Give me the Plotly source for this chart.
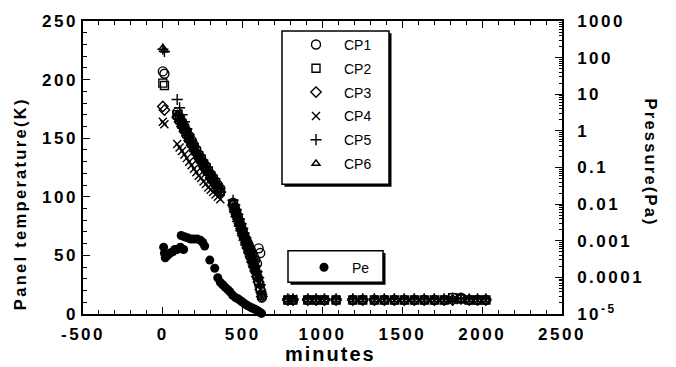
import plotly.graph_objects as go

# ---------------- data ----------------
# time (minutes) for the panel temperature measurements
t_start = [0, 10]
t_cool1 = [90, 105, 120, 135, 150, 165, 180, 195, 210, 225, 240, 255, 270, 285, 300, 315, 330, 345, 360]
t_cool2 = [440, 450, 460, 470, 480, 490, 500, 510, 520, 530, 540, 550, 560, 570, 580, 590, 600, 610, 620]
t_flat = [783, 815, 908, 960, 1012, 1085, 1190, 1252, 1325, 1387, 1450, 1512, 1575, 1637, 1700, 1762, 1815, 1867, 1919, 1971, 2023]

cp1 = [207, 205,
       172, 168, 164, 160, 156, 152, 148, 144, 140, 136, 133, 129, 126, 122, 119, 116, 113, 110, 107,
       95, 91, 87, 83, 79, 75, 71, 67, 64, 61, 58, 55, 52, 49, 46, 43, 56, 52, 14,
       12, 12, 12, 12, 12, 12, 12, 12, 12, 12, 12, 12, 12, 12, 12, 12, 14, 14, 12, 12, 12]
cp2 = [197, 195,
       170, 166, 162, 158, 154, 150, 146, 142, 139, 135, 132, 128, 125, 122, 118, 115, 112, 108, 105,
       94, 90, 86, 82, 78, 74, 70, 66, 62, 58, 54, 50, 46, 42, 38, 33, 28, 22, 16,
       12, 12, 12, 12, 12, 12, 12, 12, 12, 12, 12, 12, 12, 12, 12, 12, 14, 13, 12, 12, 12]
cp3 = [177, 174,
       168, 164, 160, 156, 152, 148, 144, 140, 137, 133, 130, 126, 123, 120, 116, 113, 110, 107, 104,
       93, 89, 85, 81, 77, 73, 69, 65, 61, 57, 53, 49, 45, 41, 37, 32, 27, 21, 15,
       12, 12, 12, 12, 12, 12, 12, 12, 12, 12, 12, 12, 12, 12, 12, 12, 12, 13, 12, 12, 12]
cp4 = [164, 162,
       145, 142, 139, 136, 133, 130, 127, 124, 121, 118, 116, 113, 111, 108, 106, 104, 102, 100, 98,
       90, 86, 82, 78, 74, 70, 66, 62, 59, 55, 51, 47, 43, 39, 35, 31, 26, 21, 15,
       12, 13, 12, 12, 12, 12, 12, 12, 12, 12, 12, 12, 12, 12, 12, 12, 12, 12, 12, 12, 12]
cp5 = [226, 224,
       183, 176, 170, 164, 158, 153, 148, 143, 139, 135, 131, 127, 123, 119, 116, 113, 110, 107, 104,
       97, 93, 89, 85, 81, 77, 73, 69, 65, 61, 57, 53, 49, 45, 41, 36, 31, 25, 17,
       13, 13, 13, 13, 13, 13, 13, 13, 13, 13, 13, 13, 13, 13, 13, 13, 13, 13, 13, 13, 13]
cp6 = [227, 225,
       171, 167, 163, 159, 155, 151, 147, 143, 139, 136, 132, 129, 125, 122, 119, 115, 112, 109, 106,
       95, 91, 87, 83, 79, 75, 71, 67, 63, 60, 56, 52, 48, 44, 40, 35, 30, 24, 16,
       12, 12, 12, 12, 12, 12, 12, 12, 12, 12, 12, 12, 12, 12, 12, 12, 13, 12, 12, 12, 12]

# pressure Pe (Pa)
t_pe = [5, 10, 15, 30, 45, 62, 75, 90, 110, 130,
        115, 135, 155, 175, 195, 215, 235, 250, 262,
        294, 325, 344, 360, 375, 390, 405, 420, 437, 455, 470, 485, 500, 515, 530, 545, 560, 575, 590, 600, 610, 618]
pe = [6.67e-4, 4.61e-4, 3.44e-4, 3.98e-4, 4.61e-4, 4.97e-4, 5.75e-4, 5.75e-4, 6.67e-4, 5.75e-4,
      1.39e-3, 1.29e-3, 1.20e-3, 1.12e-3, 1.12e-3, 1.12e-3, 1.04e-3, 8.95e-4, 7.18e-4,
      2.96e-4, 1.77e-4, 9.8e-5, 7.31e-5, 6.31e-5, 5.44e-5, 4.70e-5, 4.06e-5, 3.25e-5, 2.81e-5, 2.61e-5,
      2.33e-5, 2.09e-5, 1.87e-5, 1.70e-5, 1.56e-5, 1.45e-5, 1.36e-5, 1.26e-5, 1.17e-5, 1.09e-5, 1.04e-5]

x_ticks = [-500, 0, 500, 1000, 1500, 2000, 2500]
x_ticklabels = ["-500", "0", "500", "1000", "1500", "2000", "2500"]
y_ticks = [0, 50, 100, 150, 200, 250]
y_ticklabels = ["0", "50", "100", "150", "200", "250"]
p_ticks = [1e-5, 1e-4, 1e-3, 1e-2, 1e-1, 1, 10, 100, 1000]
p_ticklabels = ["10<sup>-5</sup>", "0.0001", "0.001", "0.01", "0.1", "1", "10", "100", "1000"]

series = [("CP1", cp1, "circle-open", 9),
          ("CP2", cp2, "square-open", 8),
          ("CP3", cp3, "diamond-open", 8),
          ("CP4", cp4, "x-thin-open", 8),
          ("CP5", cp5, "cross-thin-open", 8),
          ("CP6", cp6, "triangle-up-open", 7)]

t_all = t_start + t_cool1 + t_cool2 + t_flat


def spaced(s, px):
    return '<span style="letter-spacing:%spx">%s</span>' % (px, s)


fig = go.Figure()
for name, vals, sym, sz in series:
    fig.add_trace(go.Scatter(
        x=t_all, y=vals, mode="markers", name=name, legend="legend",
        legendgroup=name,
        marker=dict(symbol=sym, size=sz, color="black", line=dict(width=1.4, color="black")),
        cliponaxis=False,
    ))

fig.add_trace(go.Scatter(
    x=t_pe, y=pe, mode="markers", name="Pe", yaxis="y2", legend="legend2",
    marker=dict(symbol="circle", size=9, color="black"),
    cliponaxis=False,
))

BOLD = "Liberation Sans"
FONT_TICK = dict(family=BOLD, size=17, color="black", weight="bold")
TS = 2.5  # letter spacing of tick labels

# minor tick positions for the log axis
minor_log = []
for e in range(-5, 3):
    for k in range(2, 10):
        minor_log.append(k * 10 ** e)

# plot area in pixels
L, R, T, B = 83, 562, 18, 314


def px(x):
    return (x - L) / (R - L)


def py(y):
    return (B - y) / (B - T)


def legend_box(x0, y0, x1, y1):
    sh = 2.5
    return [
        dict(type="rect", xref="paper", yref="paper", layer="above",
             x0=px(x0 + sh), x1=px(x1 + sh), y0=py(y1 + sh), y1=py(y0 + sh),
             fillcolor="black", line=dict(width=0)),
        dict(type="rect", xref="paper", yref="paper", layer="above",
             x0=px(x0), x1=px(x1), y0=py(y1), y1=py(y0),
             fillcolor="white", line=dict(width=1.5, color="black")),
    ]


shapes = legend_box(282, 28, 389, 183) + legend_box(288, 250, 383, 282)

fig.update_layout(
    width=676, height=367,
    margin=dict(l=L, r=676 - R, t=T, b=367 - B),
    paper_bgcolor="white", plot_bgcolor="white",
    showlegend=True,
    xaxis=dict(range=[-500, 2500], tickvals=x_ticks, ticktext=[spaced(s, TS) for s in x_ticklabels],
               ticks="inside", ticklen=7, tickwidth=1.3, ticklabelstandoff=4,
               tickcolor="black", showline=True, linecolor="black", linewidth=1.5,
               mirror="ticks", showgrid=False, zeroline=False, tickfont=FONT_TICK,
               minor=dict(dtick=100, ticks="inside", ticklen=4, tickcolor="black", showgrid=False)),
    yaxis=dict(range=[0, 250], tickvals=y_ticks, ticktext=[spaced(s, TS) for s in y_ticklabels],
               ticks="inside", ticklen=7, tickwidth=1.3,
               tickcolor="black", showline=True, linecolor="black", linewidth=1.5,
               showgrid=False, zeroline=False, tickfont=FONT_TICK,
               minor=dict(dtick=10, ticks="inside", ticklen=4, tickcolor="black", showgrid=False)),
    yaxis2=dict(overlaying="y", side="right", type="log", range=[-5, 3],
                tickvals=p_ticks, ticktext=[spaced(s, TS) for s in p_ticklabels],
                ticks="inside", ticklen=7, tickwidth=1.3, ticklabelstandoff=10,
                tickcolor="black", showline=True, linecolor="black", linewidth=1.5,
                showgrid=False, zeroline=False, tickfont=FONT_TICK,
                minor=dict(tickvals=minor_log, ticks="inside", ticklen=3, tickcolor="black", showgrid=False)),
    legend=dict(x=px(288), y=py(26), xanchor="left", yanchor="top",
                bgcolor="rgba(0,0,0,0)", borderwidth=0,
                font=dict(family="Liberation Sans", size=14, color="black"),
                tracegroupgap=2.6, itemwidth=46),
    legend2=dict(x=px(296), y=py(251), xanchor="left", yanchor="top",
                 bgcolor="rgba(0,0,0,0)", borderwidth=0,
                 font=dict(family="Liberation Sans", size=14, color="black"),
                 itemwidth=46),
    shapes=shapes,
    annotations=[
        dict(text=spaced("Panel temperature(K)", 2.3), xref="paper", yref="paper",
             x=px(20), y=py(203), xanchor="center", yanchor="middle", textangle=-90, showarrow=False,
             font=dict(family=BOLD, size=16.5, color="black", weight="bold")),
        dict(text=spaced("Pressure(Pa)", 2.2), xref="paper", yref="paper",
             x=px(651), y=py(161), xanchor="center", yanchor="middle", textangle=90, showarrow=False,
             font=dict(family=BOLD, size=16.5, color="black", weight="bold")),
        dict(text=spaced("minutes", 2), xref="paper", yref="paper",
             x=px(330), y=py(354), xanchor="center", yanchor="middle", showarrow=False,
             font=dict(family=BOLD, size=20, color="black", weight="bold")),
    ],
)

fig.write_html("out.html", config={"displayModeBar": False},
               post_script="document.body.style.margin='0';document.body.style.overflow='hidden';")
